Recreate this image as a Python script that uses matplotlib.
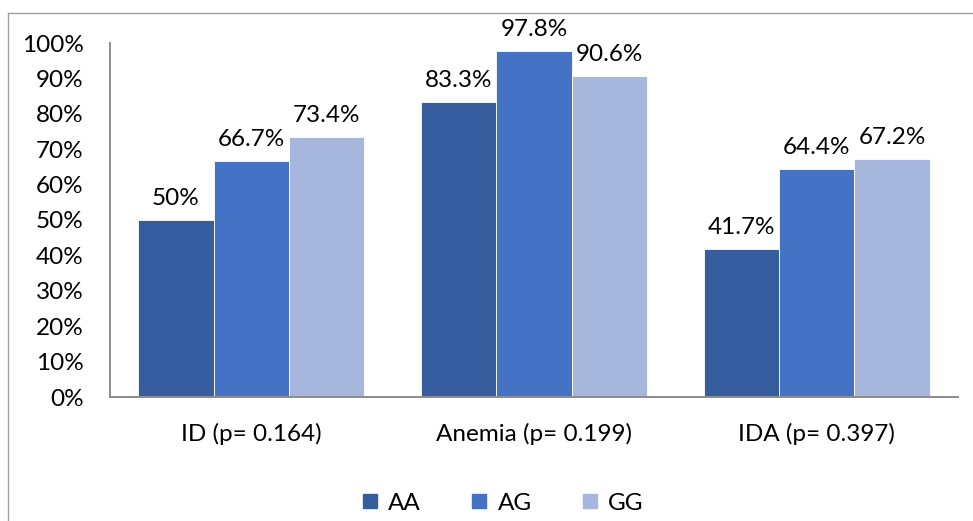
import matplotlib

matplotlib.use("Agg")
import matplotlib.pyplot as plt
import numpy as np
from matplotlib.lines import Line2D

categories = ["ID (p= 0.164)", "Anemia (p= 0.199)", "IDA (p= 0.397)"]
genotypes = ["AA", "AG", "GG"]
aa = [50.0, 83.3, 41.7]
ag = [66.7, 97.8, 64.4]
gg = [73.4, 90.6, 67.2]
labels = [["50%", "83.3%", "41.7%"],
          ["66.7%", "97.8%", "64.4%"],
          ["73.4%", "90.6%", "67.2%"]]

colors = ["#365E9F", "#4472C4", "#A7B6DC"]
FS = 17.5

plt.rcParams.update({
    "font.family": ["Lato", "DejaVu Sans"],
    "font.size": FS,
})

fig = plt.figure(figsize=(9.73, 5.21), dpi=100)
ax = fig.add_axes([110 / 973, 1 - 397 / 521, 848 / 973, 354 / 521])

x = np.arange(len(categories))
w = 0.8 / 3
for i, (vals, col) in enumerate(zip([aa, ag, gg], colors)):
    pos = x + (i - 1) * w
    ax.bar(pos, vals, width=w, color=col, edgecolor="white", linewidth=0.6)
    for px, v, lab in zip(pos, vals, labels[i]):
        ax.annotate(lab, (px, v), xytext=(0, 8), textcoords="offset points",
                    ha="center", va="bottom", fontsize=FS)

ax.set_xlim(-0.5, 2.5)
ax.set_ylim(0, 100)
ax.set_yticks(np.arange(0, 101, 10))
ax.set_yticklabels([f"{t}%" for t in range(0, 101, 10)])
ax.set_xticks(x)
ax.set_xticklabels(categories)
ax.tick_params(length=0, labelsize=FS)
ax.tick_params(axis="y", pad=19)
ax.tick_params(axis="x", pad=19)
for s in ["top", "right"]:
    ax.spines[s].set_visible(False)
for s in ["left", "bottom"]:
    ax.spines[s].set_color("#8c8c8c")
    ax.spines[s].set_linewidth(1.4)

handles = [Line2D([], [], marker="s", ls="none", markersize=10,
                  markerfacecolor=c, markeredgecolor=c) for c in colors]
fig.legend(handles, genotypes, loc="center", bbox_to_anchor=(502 / 973, 1 - 503 / 521),
           ncol=3, frameon=False, fontsize=FS, handlelength=0.8,
           handletextpad=0.35, columnspacing=2.0)

# outer frame lines along the top and left edges
fig.add_artist(Line2D([8 / 973, 1], [1 - 13 / 521, 1 - 13 / 521], color="#a0a0a0", lw=1.0))
fig.add_artist(Line2D([8 / 973, 8 / 973], [0, 1 - 13 / 521], color="#a0a0a0", lw=1.0))

fig.savefig("out.png", dpi=100)
